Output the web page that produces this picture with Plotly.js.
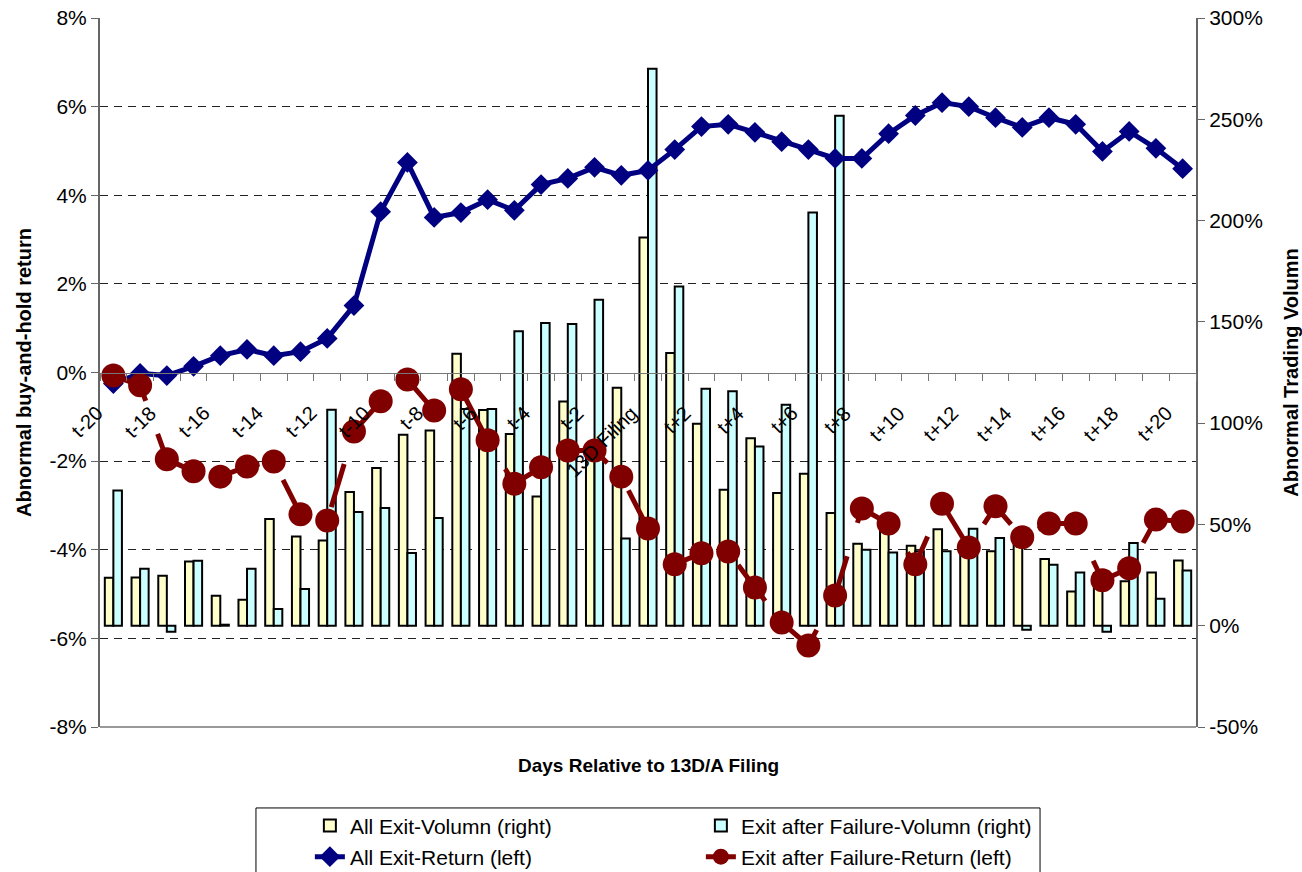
<!DOCTYPE html>
<html><head><meta charset="utf-8">
<script src="https://cdn.plot.ly/plotly-3.0.1.min.js"></script>
<style>html,body{margin:0;padding:0;background:#fff}#chart{width:1302px;height:872px}</style>
</head><body><div id="chart"></div>
<script>
const categories = ['t-20','t-19','t-18','t-17','t-16','t-15','t-14','t-13','t-12','t-11','t-10','t-9','t-8','t-7','t-6','t-5','t-4','t-3','t-2','t-1','13D Filing','t+1','t+2','t+3','t+4','t+5','t+6','t+7','t+8','t+9','t+10','t+11','t+12','t+13','t+14','t+15','t+16','t+17','t+18','t+19','t+20'];
const tickLabels = ['t-20','','t-18','','t-16','','t-14','','t-12','','t-10','','t-8','','t-6','','t-4','','t-2','','13D Filing','','t+2','','t+4','','t+6','','t+8','','t+10','','t+12','','t+14','','t+16','','t+18','','t+20'];

// Abnormal trading volume (%), right axis
const allExitVolume = [23.7,23.8,24.7,31.7,14.8,12.8,52.7,44.1,42.1,66.0,77.8,94.3,96.4,134.3,106.5,94.6,63.8,110.7,87,117.5,191.7,134.6,99.7,67.1,92.5,65.5,75.0,55.6,40.5,47.4,39.5,47.6,40,36.7,44.1,32.9,16.9,26,21.9,26.3,32.2];
const failExitVolume = [66.8,28.1,-3,32.1,0.5,28.1,8.2,18.1,106.6,56.1,58.1,35.9,53.2,107,107,145.4,149.4,148.9,160.9,43.1,275,167.5,117,115.7,88.5,109.1,204,251.7,37.5,36.2,36.7,36.7,47.9,43.3,-2,30.1,26.3,-3,40.8,13.3,27.3];

// Abnormal buy-and-hold return (%), left axis
const allExitReturn = [-0.25,-0.02,-0.07,0.14,0.38,0.52,0.38,0.47,0.77,1.51,3.63,4.74,3.50,3.61,3.90,3.66,4.24,4.38,4.63,4.45,4.56,5.03,5.55,5.60,5.42,5.21,5.03,4.83,4.83,5.39,5.80,6.09,6.00,5.75,5.53,5.75,5.60,4.99,5.44,5.06,4.60];
const failExitReturn = [-0.07,-0.29,-1.96,-2.23,-2.35,-2.12,-2.01,-3.20,-3.34,-1.33,-0.65,-0.16,-0.86,-0.38,-1.53,-2.51,-2.14,-1.76,-1.76,-2.35,-3.52,-4.33,-4.08,-4.04,-4.85,-5.64,-6.16,-5.03,-3.07,-3.41,-4.33,-2.96,-3.95,-3.02,-3.72,-3.41,-3.41,-4.69,-4.42,-3.32,-3.36];

const leftTicks = [-8,-6,-4,-2,0,2,4,6,8];
const rightTicks = [-50,0,50,100,150,200,250,300];
const leftRange = [-8,8];
const rightRange = [-50,300];

const font = 'Liberation Sans, Arial, sans-serif';
// dashed gridlines at the left-axis ticks, expressed on the right (base) scale
const gridVals = leftTicks.filter(v => v !== 0 && v !== 8 && v !== -8).map(v =>
  (v - leftRange[0]) / (leftRange[1] - leftRange[0]) * (rightRange[1] - rightRange[0]) + rightRange[0]);

const traces = [
  {type:'bar', name:'All Exit-Volumn (right)', x:categories, y:allExitVolume, yaxis:'y', legend:'legend',
   marker:{color:'#FFFFCC', line:{color:'#000', width:2}}},
  {type:'bar', name:'Exit after Failure-Volumn (right)', x:categories, y:failExitVolume, yaxis:'y', legend:'legend',
   marker:{color:'#CCFFFF', line:{color:'#000', width:2}}},
  {type:'scatter', mode:'lines+markers', name:'All Exit-Return (left)', x:categories, y:allExitReturn, yaxis:'y2', legend:'legend2',
   line:{color:'#000080', width:5}, marker:{symbol:'diamond', size:16, color:'#000080'}},
  {type:'scatter', mode:'lines+markers', name:'Exit after Failure-Return (left)', x:categories, y:failExitReturn, yaxis:'y2', legend:'legend2',
   line:{color:'#800000', width:5, dash:'45px,35px'}, marker:{symbol:'circle', size:24, color:'#800000'}}
];

// rotated category labels hanging below the zero line (every other category)
const tickAnnotations = categories.map((c, i) => ({
  text: tickLabels[i], x: c, xref:'x', y: 0, yref:'y2', xanchor:'right', yanchor:'top',
  textangle:-45, xshift:-4, yshift:-27, showarrow:false, font:{family:font, size:20, color:'#000'}
})).filter(a => a.text !== '');

const legendCommon = {orientation:'h', xref:'container', yref:'container', x:0.238, xanchor:'left', yanchor:'middle',
  entrywidth:346, entrywidthmode:'pixels', borderwidth:0, bgcolor:'rgba(0,0,0,0)',
  font:{family:font, size:21, color:'#000'}, traceorder:'normal'};

const layout = {
  width:1302, height:872,
  margin:{l:100, r:106, t:18, b:145},
  paper_bgcolor:'#fff', plot_bgcolor:'#fff',
  font:{family:font, size:21, color:'#000'},
  showlegend:true,
  barmode:'group', bargap:0.36, bargroupgap:0,
  xaxis:{type:'category', anchor:'free', position:0.5, range:[-0.5, categories.length-0.5],
    tickmode:'array', tickvals:categories, showticklabels:false,
    ticks:'outside', tickson:'boundaries', ticklen:7, tickcolor:'#777', tickwidth:1,
    showline:true, linecolor:'#777', linewidth:1, showgrid:false, zeroline:false},
  yaxis:{side:'right', range:rightRange, tickmode:'array', tickvals:rightTicks,
    ticktext:rightTicks.map(v => v + '%'),
    ticks:'outside', ticklen:7, tickcolor:'#666', showline:true, linecolor:'#666', linewidth:2,
    showgrid:false, zeroline:false, tickfont:{family:font, size:21},
    minor:{tickmode:'array', tickvals:gridVals, showgrid:true, gridcolor:'#222', griddash:'8px,6px', gridwidth:1, ticks:''},
    title:{text:'<b>Abnormal Trading Volumn</b>', font:{family:font, size:20}, standoff:22}},
  yaxis2:{overlaying:'y', side:'left', range:leftRange, tickmode:'array', tickvals:leftTicks,
    ticktext:leftTicks.map(v => v + '%'),
    ticks:'outside', ticklen:7, tickcolor:'#666', showline:true, linecolor:'#666', linewidth:2,
    showgrid:false, zeroline:false, tickfont:{family:font, size:21},
    title:{text:'<b>Abnormal buy-and-hold return</b>', font:{family:font, size:20}, standoff:12}},
  annotations:[{text:'<b>Days Relative to 13D/A Filing</b>', xref:'paper', yref:'paper', x:0.5, y:-0.054,
    xanchor:'center', yanchor:'middle', showarrow:false, font:{family:font, size:19}}].concat(tickAnnotations),
  shapes:[
    {type:'line', xref:'paper', yref:'paper', x0:0, x1:1, y0:0, y1:0, line:{color:'#777', width:1.5}},
    {type:'rect', xref:'paper', yref:'paper', x0:0.1423, x1:0.8577, y0:-0.1142, y1:-0.23, line:{color:'#000', width:1}, fillcolor:'rgba(0,0,0,0)'}
  ],
  legend:Object.assign({}, legendCommon, {y:0.0528}),
  legend2:Object.assign({}, legendCommon, {y:0.0172})
};

Plotly.newPlot('chart', traces, layout, {displayModeBar:false, staticPlot:true});
</script>
</body></html>
